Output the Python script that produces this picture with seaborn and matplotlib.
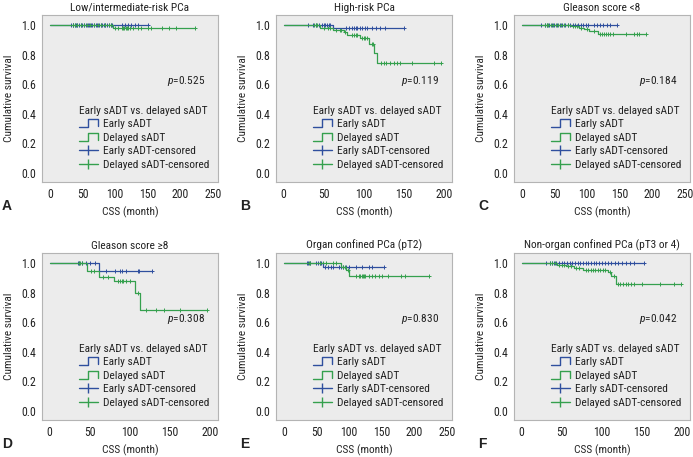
import numpy as np
import matplotlib
matplotlib.use('Agg')
import matplotlib.pyplot as plt
import seaborn as sns
from matplotlib.lines import Line2D
from matplotlib.legend_handler import HandlerBase

# ---- data (months, survival) ----
# A: Low/intermediate-risk PCa
a_early_t = [0, 150]
a_early_s = [1.0, 1.0]
a_early_c = [33, 35, 36, 38, 40, 42, 45, 48, 50, 52, 55, 58, 60, 63, 65, 68, 70, 72, 75, 78,
             80, 83, 85, 88, 90, 93, 95, 110, 115, 120, 125, 130, 135, 150]
a_del_t = [0, 97, 222]
a_del_s = [1.0, 0.977, 0.977]
a_del_c = [35, 38, 42, 47, 52, 57, 62, 67, 73, 78, 84, 90, 94, 100, 105, 110, 112, 114, 116,
           118, 120, 122, 128, 135, 140, 150, 155, 172, 182, 193, 222]

# B: High-risk PCa
b_early_t = [0, 62, 150]
b_early_s = [1.0, 0.977, 0.977]
b_early_c = [30, 37, 40, 44, 48, 50, 52, 54, 56, 58, 78, 82, 85, 88, 90, 92, 95, 98, 101, 104,
             110, 115, 120, 127, 150]
b_del_t = [0, 45, 62, 75, 79, 95, 107, 113, 117, 196]
b_del_s = [1.0, 0.977, 0.964, 0.951, 0.932, 0.909, 0.869, 0.81, 0.745, 0.745]
b_del_c = [38, 40, 42, 50, 55, 58, 65, 70, 72, 77, 85, 88, 90, 92, 98, 100, 102, 104, 110, 112,
           122, 125, 128, 133, 138, 141, 145, 160, 187, 196]

# C: Gleason score <8
c_early_t = [0, 146]
c_early_s = [1.0, 1.0]
c_early_c = [30, 35, 38, 42, 46, 50, 54, 58, 62, 66, 70, 74, 78, 82, 86, 90, 94, 98, 102, 110,
             115, 120, 125, 130, 135, 146]
c_del_t = [0, 75, 88, 95, 103, 117, 190]
c_del_s = [1.0, 0.993, 0.982, 0.971, 0.96, 0.94, 0.94]
c_del_c = [35, 38, 40, 45, 48, 52, 56, 60, 65, 70, 78, 82, 85, 90, 100, 110, 120, 123, 126, 129,
           132, 135, 140, 160, 172, 176, 180, 190]

# D: Gleason score >=8
d_early_t = [0, 61, 128]
d_early_s = [1.0, 0.944, 0.944]
d_early_c = [35, 37, 40, 45, 50, 57, 70, 82, 88, 90, 95, 110, 112, 128]
d_del_t = [0, 47, 61, 80, 107, 113, 196]
d_del_s = [1.0, 0.944, 0.907, 0.876, 0.797, 0.684, 0.684]
d_del_c = [36, 38, 40, 52, 55, 67, 73, 85, 88, 90, 92, 95, 100, 110, 120, 133, 143, 162, 196]

# E: Organ confined PCa (pT2)
e_early_t = [0, 60, 153]
e_early_s = [1.0, 0.973, 0.973]
e_early_c = [35, 37, 40, 50, 53, 55, 57, 63, 67, 72, 75, 85, 88, 90, 95, 100, 110, 120, 130,
             135, 153]
e_del_t = [0, 88, 95, 100, 222]
e_del_s = [1.0, 0.975, 0.955, 0.914, 0.914]
e_del_c = [38, 40, 55, 60, 65, 75, 80, 90, 93, 98, 110, 115, 117, 119, 121, 123, 125, 130, 135,
           140, 145, 150, 160, 180, 185, 222]

# F: Non-organ confined PCa (pT3 or 4)
f_early_t = [0, 152]
f_early_s = [1.0, 1.0]
f_early_c = [30, 35, 38, 40, 43, 46, 50, 53, 56, 60, 63, 66, 70, 73, 76, 80, 83, 86, 90, 93,
             96, 100, 104, 108, 112, 116, 120, 125, 130, 135, 140, 152]
f_del_t = [0, 44, 55, 65, 76, 108, 112, 118, 199]
f_del_s = [1.0, 0.989, 0.978, 0.966, 0.955, 0.937, 0.914, 0.858, 0.858]
f_del_c = [35, 38, 42, 46, 50, 53, 58, 62, 68, 72, 80, 83, 86, 89, 92, 95, 98, 101, 104, 110,
           115, 120, 123, 126, 130, 133, 136, 140, 150, 172, 190, 199]

titles = ['Low/intermediate-risk PCa', 'High-risk PCa', 'Gleason score <8',
          'Gleason score \u22658', 'Organ confined PCa (pT2)', 'Non-organ confined PCa (pT3 or 4)']
p_values = ['0.525', '0.119', '0.184', '0.308', '0.830', '0.042']
letters = ['A', 'B', 'C', 'D', 'E', 'F']
x_max_tick = [250, 200, 250, 200, 250, 200]

curves = [
    (a_early_t, a_early_s, a_early_c, a_del_t, a_del_s, a_del_c),
    (b_early_t, b_early_s, b_early_c, b_del_t, b_del_s, b_del_c),
    (c_early_t, c_early_s, c_early_c, c_del_t, c_del_s, c_del_c),
    (d_early_t, d_early_s, d_early_c, d_del_t, d_del_s, d_del_c),
    (e_early_t, e_early_s, e_early_c, e_del_t, e_del_s, e_del_c),
    (f_early_t, f_early_s, f_early_c, f_del_t, f_del_s, f_del_c),
]

BLUE = '#2f4f9e'
GREEN = '#35a04e'
FONTS = ['Roboto Condensed', 'DejaVu Sans']
FS = 8.2

sns.set_style('white', {'axes.facecolor': '#ececec', 'axes.edgecolor': '#b4b4b4'})
plt.rcParams['font.family'] = FONTS
plt.rcParams['font.size'] = FS
plt.rcParams['text.color'] = '#222222'
plt.rcParams['mathtext.fontset'] = 'custom'
plt.rcParams['mathtext.it'] = 'Roboto Condensed:italic'
plt.rcParams['mathtext.rm'] = 'Roboto Condensed'


class StepHandler(HandlerBase):
    def create_artists(self, legend, orig_handle, xdescent, ydescent, width, height,
                       fontsize, trans):
        x0, y0 = -xdescent, -ydescent
        xs = [x0, x0 + 0.45 * width, x0 + 0.45 * width, x0 + width, x0 + width]
        ys = [y0, y0, y0 + height, y0 + height, y0 + 0.15 * height]
        ln = Line2D(xs, ys, color=orig_handle.get_color(), lw=1.0)
        ln.set_transform(trans)
        return [ln]


def surv_at(t, s, c):
    idx = np.searchsorted(np.asarray(t), np.asarray(c), side='right') - 1
    return np.asarray(s)[idx]


fig = plt.figure(figsize=(6.93, 4.57), dpi=100)
W, H = 693.0, 457.0
lefts = [42, 276, 514]
rows = [(15, 182), (253, 420)]

for i in range(6):
    r, c = divmod(i, 3)
    top, bot = rows[r]
    ax = fig.add_axes([lefts[c] / W, 1 - bot / H, 176 / W, (bot - top) / H])
    et, es, ec, dt, ds, dc = curves[i]

    sns.lineplot(x=et, y=es, ax=ax, color=BLUE, lw=0.9, drawstyle='steps-post',
                 estimator=None, sort=False)
    sns.lineplot(x=dt, y=ds, ax=ax, color=GREEN, lw=0.9, drawstyle='steps-post',
                 estimator=None, sort=False)
    sns.scatterplot(x=ec, y=surv_at(et, es, ec), ax=ax, marker='+', color=BLUE, s=12,
                    linewidth=0.7)
    sns.scatterplot(x=dc, y=surv_at(dt, ds, dc), ax=ax, marker='+', color=GREEN, s=12,
                    linewidth=0.7)

    xm = x_max_tick[i]
    ax.set_xticks(np.arange(0, xm + 1, 50))
    ax.set_xlim(-0.048 * xm, xm * 1.05 if xm == 200 else xm * 1.03)
    ax.set_ylim(-0.062, 1.068)
    ax.set_yticks([0, 0.2, 0.4, 0.6, 0.8, 1.0])
    ax.set_yticklabels(['0.0', '0.2', '0.4', '0.6', '0.8', '1.0'])
    ax.tick_params(axis='both', direction='out', length=2.5, width=0.7, color='#888888',
                   labelsize=8.5, labelcolor='#222222', pad=2)
    ax.set_xlabel('CSS (month)', fontsize=FS, labelpad=4)
    ax.set_ylabel('Cumulative survival', fontsize=FS, labelpad=5)
    ax.set_title(titles[i], fontsize=FS, pad=3)
    for sp in ax.spines.values():
        sp.set_linewidth(0.8)

    ax.text(0.925, 0.605, r'$p$=' + p_values[i], transform=ax.transAxes, ha='right',
            va='center', fontsize=FS)

    h_e = Line2D([], [], color=BLUE)
    h_d = Line2D([], [], color=GREEN)
    h_ec = Line2D([], [], color=BLUE, marker='|', markersize=7, lw=1.0)
    h_dc = Line2D([], [], color=GREEN, marker='|', markersize=7, lw=1.0)
    ax.legend([h_e, h_d, h_ec, h_dc],
              ['Early sADT', 'Delayed sADT', 'Early sADT-censored', 'Delayed sADT-censored'],
              handler_map={h_e: StepHandler(), h_d: StepHandler()},
              title='Early sADT vs. delayed sADT', title_fontsize=FS, fontsize=FS,
              frameon=False, loc='lower right', bbox_to_anchor=(0.975, 0.045),
              handlelength=1.6, handleheight=0.75, handletextpad=0.45, labelspacing=0.3,
              alignment='left', borderpad=0.2, borderaxespad=0.2)

    lx = 2 if c == 0 else lefts[c] - 36
    fig.text(lx / W, 1 - (bot + 31) / H, letters[i], fontsize=10, fontweight='bold',
             family=['Liberation Sans', 'DejaVu Sans'], va='bottom')

fig.savefig('out.png', dpi=100)
